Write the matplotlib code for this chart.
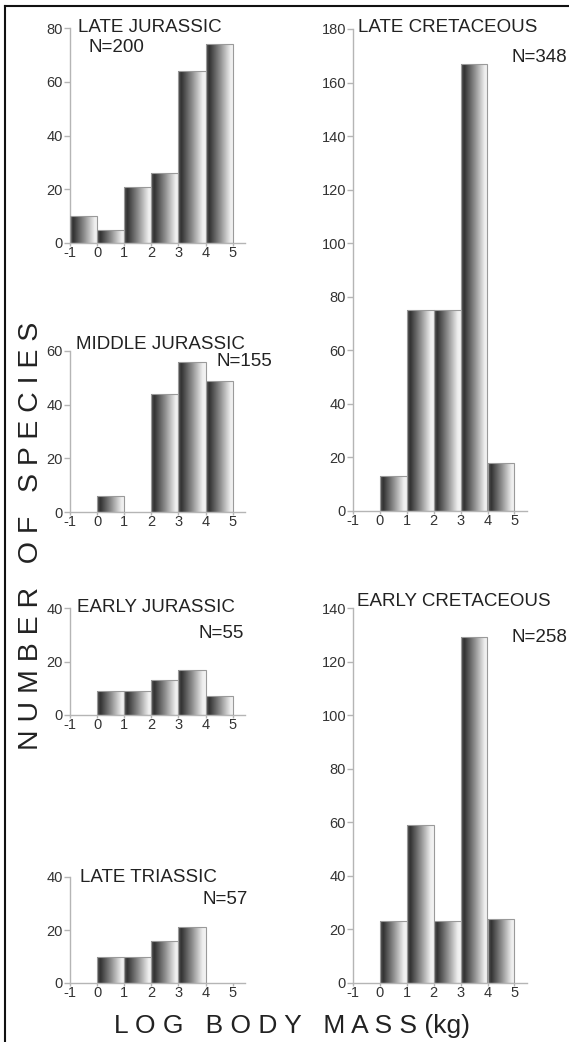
import numpy as np
import matplotlib
matplotlib.use('Agg')
import matplotlib.pyplot as plt
from matplotlib.colors import LinearSegmentedColormap
from matplotlib.lines import Line2D

plt.rcParams['font.family'] = ['Liberation Sans', 'DejaVu Sans']

# 数据: 每个柱子的左边界(log 体重) 和 物种数
late_jurassic_bins = [-1, 0, 1, 2, 3, 4]
late_jurassic_counts = [10, 5, 21, 26, 64, 74]

middle_jurassic_bins = [0, 2, 3, 4]
middle_jurassic_counts = [6, 44, 56, 49]

early_jurassic_bins = [0, 1, 2, 3, 4]
early_jurassic_counts = [9, 9, 13, 17, 7]

late_triassic_bins = [0, 1, 2, 3]
late_triassic_counts = [10, 10, 16, 21]

late_cretaceous_bins = [0, 1, 2, 3, 4]
late_cretaceous_counts = [13, 75, 75, 167, 18]

early_cretaceous_bins = [0, 1, 2, 3, 4]
early_cretaceous_counts = [23, 59, 23, 129, 24]

xticks = [-1, 0, 1, 2, 3, 4, 5]

W, H = 569, 1042
fig = plt.figure(figsize=(W / 100, H / 100), dpi=100)

# 柱子的水平渐变: 左暗右亮
grad_cmap = LinearSegmentedColormap.from_list(
    'bar', [(0.0, '#5c5c5c'), (0.12, '#323232'), (0.5, '#8c8c8c'),
            (0.88, '#eeeeee'), (1.0, '#f4f4f4')])
grad = np.linspace(0, 1, 256).reshape(1, -1)

axis_col = '#b5b5b5'
text_col = '#222222'


def add_panel(x_left, x_unit, y0, y_top, ymax, ystep):
    # 用像素位置定位坐标轴
    rect = [x_left / W, 1 - y0 / H, 6.45 * x_unit / W, (y0 - y_top) / H]
    ax = fig.add_axes(rect)
    ax.set_xlim(-1, 5.45)
    ax.set_ylim(0, ymax)
    for s in ['top', 'right']:
        ax.spines[s].set_visible(False)
    for s in ['left', 'bottom']:
        ax.spines[s].set_color(axis_col)
        ax.spines[s].set_linewidth(1.0)
    ax.set_xticks(xticks)
    ax.set_xticklabels([str(t) for t in xticks])
    ax.set_yticks(np.arange(0, ymax + 1, ystep))
    ax.tick_params(axis='y', length=4, width=1, color=axis_col,
                   labelsize=10.5, labelcolor='#333333', pad=1)
    ax.tick_params(axis='x', length=2, width=1, color=axis_col,
                   labelsize=10.5, labelcolor='#333333', pad=0.5)
    ax.patch.set_visible(False)
    return ax


def draw_bars(ax, bins, counts):
    bars = ax.bar(bins, counts, width=1.0, align='edge',
                  facecolor='none', edgecolor='#9a9a9a', linewidth=0.8, zorder=3)
    for b in bars:
        x0 = b.get_x()
        h = b.get_height()
        im = ax.imshow(grad, cmap=grad_cmap, aspect='auto',
                       extent=(x0, x0 + 1, 0, h), zorder=2, interpolation='bilinear')
        im.set_clip_path(b)
    ax.set_xlim(-1, 5.45)


def label(x, y, s, ha='left', size=13.5):
    fig.text(x / W, 1 - y / H, s, ha=ha, va='center', fontsize=size, color=text_col)


ax = add_panel(70, 27.1, 243, 28, 80, 20)
draw_bars(ax, late_jurassic_bins, late_jurassic_counts)
ax.set_ylim(0, 80)
label(78, 28, 'LATE JURASSIC')
label(88, 47, 'N=200')

ax = add_panel(70, 27.1, 512, 351, 60, 20)
draw_bars(ax, middle_jurassic_bins, middle_jurassic_counts)
ax.set_ylim(0, 60)
label(76, 344, 'MIDDLE JURASSIC')
label(272, 361, 'N=155', ha='right')

ax = add_panel(70, 27.1, 715, 608, 40, 20)
draw_bars(ax, early_jurassic_bins, early_jurassic_counts)
ax.set_ylim(0, 40)
label(77, 608, 'EARLY JURASSIC')
label(244, 633, 'N=55', ha='right')

ax = add_panel(70, 27.1, 983, 877, 40, 20)
draw_bars(ax, late_triassic_bins, late_triassic_counts)
ax.set_ylim(0, 40)
label(80, 877, 'LATE TRIASSIC')
label(248, 899, 'N=57', ha='right')

ax = add_panel(353, 26.9, 511, 29, 180, 20)
draw_bars(ax, late_cretaceous_bins, late_cretaceous_counts)
ax.set_ylim(0, 180)
label(358, 28, 'LATE CRETACEOUS')
label(567, 57, 'N=348', ha='right')

ax = add_panel(353, 26.9, 983, 608, 140, 20)
draw_bars(ax, early_cretaceous_bins, early_cretaceous_counts)
ax.set_ylim(0, 140)
label(357, 602, 'EARLY CRETACEOUS')
label(567, 637, 'N=258', ha='right')

# 坐标轴大标题
fig.text(31 / W, 1 - 536 / H, 'N U M B E R   O F   S P E C I E S', rotation=90,
         ha='center', va='center', fontsize=20.5, color=text_col)
fig.text(292 / W, 1 - 1026 / H, 'L O G   B O D Y   M A S S (kg)',
         ha='center', va='center', fontsize=19, color=text_col)

# 外框(左和上)
fig.add_artist(Line2D([5 / W, 5 / W], [0, 1 - 6 / H], color='#111111', lw=1.5))
fig.add_artist(Line2D([5 / W, 1], [1 - 6 / H, 1 - 6 / H], color='#111111', lw=1.5))

fig.savefig('out.png', dpi=100, facecolor='white')
